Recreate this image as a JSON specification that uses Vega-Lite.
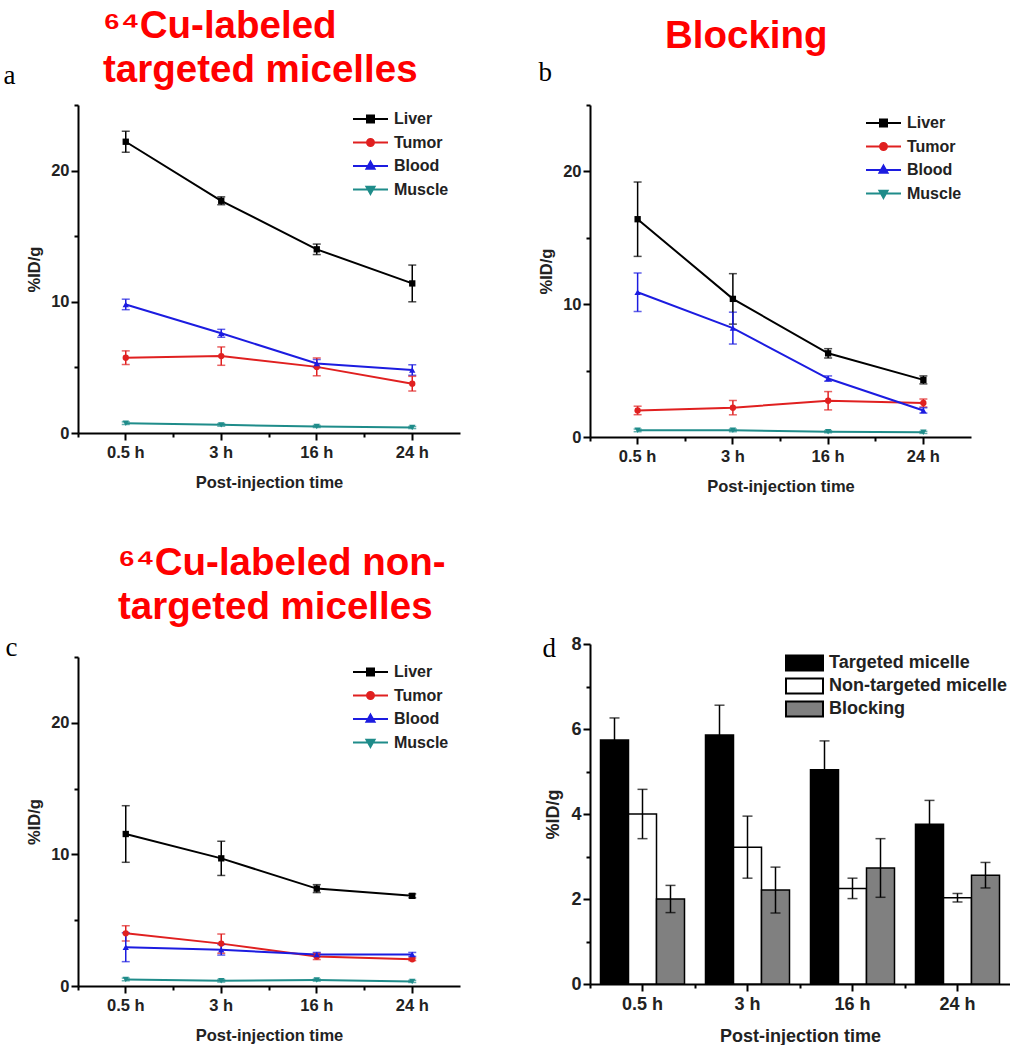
{
  "$schema": "https://vega.github.io/schema/vega-lite/v6.json",
  "background": "white",
  "padding": {"left": 3, "top": -5, "right": 0, "bottom": 0},
  "datasets": {
    "a": [
      {"time": "0.5 h", "organ": "Liver", "value": 22.2, "err": 0.8},
      {"time": "3 h", "organ": "Liver", "value": 17.7, "err": 0.3},
      {"time": "16 h", "organ": "Liver", "value": 14.0, "err": 0.4},
      {"time": "24 h", "organ": "Liver", "value": 11.4, "err": 1.4},
      {"time": "0.5 h", "organ": "Tumor", "value": 5.74, "err": 0.52},
      {"time": "3 h", "organ": "Tumor", "value": 5.86, "err": 0.7},
      {"time": "16 h", "organ": "Tumor", "value": 5.04, "err": 0.68},
      {"time": "24 h", "organ": "Tumor", "value": 3.76, "err": 0.56},
      {"time": "0.5 h", "organ": "Blood", "value": 9.8, "err": 0.4},
      {"time": "3 h", "organ": "Blood", "value": 7.6, "err": 0.3},
      {"time": "16 h", "organ": "Blood", "value": 5.3, "err": 0.3},
      {"time": "24 h", "organ": "Blood", "value": 4.8, "err": 0.4},
      {"time": "0.5 h", "organ": "Muscle", "value": 0.75, "err": 0.1},
      {"time": "3 h", "organ": "Muscle", "value": 0.62, "err": 0.1},
      {"time": "16 h", "organ": "Muscle", "value": 0.5, "err": 0.08},
      {"time": "24 h", "organ": "Muscle", "value": 0.42, "err": 0.08}
    ],
    "b": [
      {"time": "0.5 h", "organ": "Liver", "value": 16.4, "err": 2.8},
      {"time": "3 h", "organ": "Liver", "value": 10.4, "err": 1.9},
      {"time": "16 h", "organ": "Liver", "value": 6.3, "err": 0.35},
      {"time": "24 h", "organ": "Liver", "value": 4.3, "err": 0.3},
      {"time": "0.5 h", "organ": "Tumor", "value": 2.0, "err": 0.32},
      {"time": "3 h", "organ": "Tumor", "value": 2.21, "err": 0.54},
      {"time": "16 h", "organ": "Tumor", "value": 2.73, "err": 0.69},
      {"time": "24 h", "organ": "Tumor", "value": 2.56, "err": 0.3},
      {"time": "0.5 h", "organ": "Blood", "value": 10.9, "err": 1.45},
      {"time": "3 h", "organ": "Blood", "value": 8.2, "err": 1.2},
      {"time": "16 h", "organ": "Blood", "value": 4.4, "err": 0.2},
      {"time": "24 h", "organ": "Blood", "value": 2.0, "err": 0.2},
      {"time": "0.5 h", "organ": "Muscle", "value": 0.5, "err": 0.1},
      {"time": "3 h", "organ": "Muscle", "value": 0.5, "err": 0.1},
      {"time": "16 h", "organ": "Muscle", "value": 0.4, "err": 0.08},
      {"time": "24 h", "organ": "Muscle", "value": 0.35, "err": 0.08}
    ],
    "c": [
      {"time": "0.5 h", "organ": "Liver", "value": 11.55, "err": 2.15},
      {"time": "3 h", "organ": "Liver", "value": 9.7, "err": 1.3},
      {"time": "16 h", "organ": "Liver", "value": 7.4, "err": 0.3},
      {"time": "24 h", "organ": "Liver", "value": 6.85, "err": 0.15},
      {"time": "0.5 h", "organ": "Tumor", "value": 4.0, "err": 0.58},
      {"time": "3 h", "organ": "Tumor", "value": 3.22, "err": 0.73},
      {"time": "16 h", "organ": "Tumor", "value": 2.25, "err": 0.24},
      {"time": "24 h", "organ": "Tumor", "value": 2.03, "err": 0.1},
      {"time": "0.5 h", "organ": "Blood", "value": 2.95, "err": 1.1},
      {"time": "3 h", "organ": "Blood", "value": 2.75, "err": 0.4},
      {"time": "16 h", "organ": "Blood", "value": 2.4, "err": 0.15},
      {"time": "24 h", "organ": "Blood", "value": 2.4, "err": 0.15},
      {"time": "0.5 h", "organ": "Muscle", "value": 0.5, "err": 0.1},
      {"time": "3 h", "organ": "Muscle", "value": 0.4, "err": 0.1},
      {"time": "16 h", "organ": "Muscle", "value": 0.45, "err": 0.08},
      {"time": "24 h", "organ": "Muscle", "value": 0.35, "err": 0.08}
    ],
    "d": [
      {"time": "0.5 h", "group": "Targeted micelle", "value": 5.74, "err": 0.52},
      {"time": "0.5 h", "group": "Non-targeted micelle", "value": 4.0, "err": 0.58},
      {"time": "0.5 h", "group": "Blocking", "value": 2.0, "err": 0.32},
      {"time": "3 h", "group": "Targeted micelle", "value": 5.86, "err": 0.7},
      {"time": "3 h", "group": "Non-targeted micelle", "value": 3.22, "err": 0.73},
      {"time": "3 h", "group": "Blocking", "value": 2.21, "err": 0.54},
      {"time": "16 h", "group": "Targeted micelle", "value": 5.04, "err": 0.68},
      {"time": "16 h", "group": "Non-targeted micelle", "value": 2.25, "err": 0.24},
      {"time": "16 h", "group": "Blocking", "value": 2.73, "err": 0.69},
      {"time": "24 h", "group": "Targeted micelle", "value": 3.76, "err": 0.56},
      {"time": "24 h", "group": "Non-targeted micelle", "value": 2.03, "err": 0.1},
      {"time": "24 h", "group": "Blocking", "value": 2.56, "err": 0.3}
    ]
  },
  "hconcat": [
    {
      "spacing": 52,
      "resolve": {"scale": {"color": "independent", "shape": "independent"}},
      "vconcat": [
        {
          "width": 382, "height": 328,
          "data": {"name": "a"},
          "title": {"text": ["⁶⁴Cu-labeled", "targeted micelles"], "dx": 25, "offset": -29, "lineHeight": 44},
          "layer": [
            {"mark": {"type": "line", "strokeWidth": 2},
             "encoding": {
               "x": {"field": "time", "type": "ordinal", "scale": {"type": "band", "domain": ["0.5 h", "3 h", "16 h", "24 h"], "paddingInner": 0, "paddingOuter": 0}, "axis": {"title": "Post-injection time", "labelAngle": 0, "bandPosition": 0.5, "tickSize": 7, "labelPadding": 4, "titlePadding": 14}},
               "y": {"field": "value", "type": "quantitative", "scale": {"domain": [0, 25], "nice": false}, "axis": {"values": [0, 10, 20], "tickSize": 7, "labelPadding": 2, "title": "%ID/g", "titlePadding": 8}},
               "color": {"field": "organ", "type": "nominal", "scale": {"domain": ["Liver", "Tumor", "Blood", "Muscle"], "range": ["#000000", "#e02020", "#1c1ce0", "#1f8c8a"]},
                 "legend": {"orient": "none", "legendX": 274, "legendY": 6, "title": null, "labelFontSize": 16, "symbolSize": 1225, "symbolStrokeWidth": 2, "labelOffset": 5, "clipHeight": 16, "rowPadding": 7.5,
                   "encode": {"symbols": {"update": {
                     "shape": {"signal": "datum.value === 'Liver' ? 'M-1,0H1M-0.2,-0.2H0.2V0.2H-0.2Z' : datum.value === 'Tumor' ? 'M-1,0H1M0.2,0A0.2,0.2,0,1,1,-0.2,0A0.2,0.2,0,1,1,0.2,0Z' : datum.value === 'Blood' ? 'M-1,0H1M0,-0.25L0.23,0.16L-0.23,0.16Z' : 'M-1,0H1M0,0.25L0.23,-0.16L-0.23,-0.16Z'"},
                     "fill": {"signal": "datum.value === 'Liver' ? '#000000' : datum.value === 'Tumor' ? '#e02020' : datum.value === 'Blood' ? '#1c1ce0' : '#1f8c8a'"},
                     "stroke": {"signal": "datum.value === 'Liver' ? '#000000' : datum.value === 'Tumor' ? '#e02020' : datum.value === 'Blood' ? '#1c1ce0' : '#1f8c8a'"}
                   }}}}}
             }},
            {"mark": {"type": "errorbar", "ticks": {"size": 8, "thickness": 1.5}, "thickness": 1.5},
             "encoding": {
               "x": {"field": "time", "type": "ordinal", "axis": {"orient": "bottom", "bandPosition": 0, "tickSize": 4, "labels": false, "domain": false, "title": null}},
               "y": {"field": "value", "type": "quantitative", "axis": null},
               "yError": {"field": "err"},
               "color": {"field": "organ", "type": "nominal", "legend": null}
             }},
            {"mark": {"type": "point", "filled": true, "size": 40, "opacity": 1},
             "encoding": {
               "x": {"field": "time", "type": "ordinal", "axis": null},
               "y": {"field": "value", "type": "quantitative", "axis": {"orient": "left", "values": [5, 15, 25], "tickSize": 4, "labels": false, "domain": false, "title": "a", "titleAngle": 0, "titleX": -75, "titleY": -22, "titleAlign": "left", "titleBaseline": "alphabetic", "titleFont": "Liberation Serif", "titleFontWeight": "normal", "titleFontSize": 27, "titleColor": "#000"}},
               "color": {"field": "organ", "type": "nominal", "legend": null},
               "shape": {"field": "organ", "type": "nominal", "scale": {"domain": ["Blood", "Liver", "Muscle", "Tumor"], "range": ["triangle-up", "square", "triangle-down", "circle"]}, "legend": null}
             }}
          ],
          "resolve": {"axis": {"x": "independent", "y": "independent"}}
        },
        {
          "width": 382, "height": 329,
          "data": {"name": "c"},
          "title": {"text": ["⁶⁴Cu-labeled non-", "targeted micelles"], "dx": 40, "offset": 6, "lineHeight": 44},
          "layer": [
            {"mark": {"type": "line", "strokeWidth": 2},
             "encoding": {
               "x": {"field": "time", "type": "ordinal", "scale": {"type": "band", "domain": ["0.5 h", "3 h", "16 h", "24 h"], "paddingInner": 0, "paddingOuter": 0}, "axis": {"title": "Post-injection time", "labelAngle": 0, "bandPosition": 0.5, "tickSize": 7, "labelPadding": 4, "titlePadding": 14}},
               "y": {"field": "value", "type": "quantitative", "scale": {"domain": [0, 25], "nice": false}, "axis": {"values": [0, 10, 20], "tickSize": 7, "labelPadding": 2, "title": "%ID/g", "titlePadding": 8}},
               "color": {"field": "organ", "type": "nominal", "scale": {"domain": ["Liver", "Tumor", "Blood", "Muscle"], "range": ["#000000", "#e02020", "#1c1ce0", "#1f8c8a"]},
                 "legend": {"orient": "none", "legendX": 274, "legendY": 7, "title": null, "labelFontSize": 16, "symbolSize": 1225, "symbolStrokeWidth": 2, "labelOffset": 5, "clipHeight": 16, "rowPadding": 7.5,
                   "encode": {"symbols": {"update": {
                     "shape": {"signal": "datum.value === 'Liver' ? 'M-1,0H1M-0.2,-0.2H0.2V0.2H-0.2Z' : datum.value === 'Tumor' ? 'M-1,0H1M0.2,0A0.2,0.2,0,1,1,-0.2,0A0.2,0.2,0,1,1,0.2,0Z' : datum.value === 'Blood' ? 'M-1,0H1M0,-0.25L0.23,0.16L-0.23,0.16Z' : 'M-1,0H1M0,0.25L0.23,-0.16L-0.23,-0.16Z'"},
                     "fill": {"signal": "datum.value === 'Liver' ? '#000000' : datum.value === 'Tumor' ? '#e02020' : datum.value === 'Blood' ? '#1c1ce0' : '#1f8c8a'"},
                     "stroke": {"signal": "datum.value === 'Liver' ? '#000000' : datum.value === 'Tumor' ? '#e02020' : datum.value === 'Blood' ? '#1c1ce0' : '#1f8c8a'"}
                   }}}}}
             }},
            {"mark": {"type": "errorbar", "ticks": {"size": 8, "thickness": 1.5}, "thickness": 1.5},
             "encoding": {
               "x": {"field": "time", "type": "ordinal", "axis": {"orient": "bottom", "bandPosition": 0, "tickSize": 4, "labels": false, "domain": false, "title": null}},
               "y": {"field": "value", "type": "quantitative", "axis": null},
               "yError": {"field": "err"},
               "color": {"field": "organ", "type": "nominal", "legend": null}
             }},
            {"mark": {"type": "point", "filled": true, "size": 40, "opacity": 1},
             "encoding": {
               "x": {"field": "time", "type": "ordinal", "axis": null},
               "y": {"field": "value", "type": "quantitative", "axis": {"orient": "left", "values": [5, 15, 25], "tickSize": 4, "labels": false, "domain": false, "title": "c", "titleAngle": 0, "titleX": -73, "titleY": -2, "titleAlign": "left", "titleBaseline": "alphabetic", "titleFont": "Liberation Serif", "titleFontWeight": "normal", "titleFontSize": 27, "titleColor": "#000"}},
               "color": {"field": "organ", "type": "nominal", "legend": null},
               "shape": {"field": "organ", "type": "nominal", "scale": {"domain": ["Blood", "Liver", "Muscle", "Tumor"], "range": ["triangle-up", "square", "triangle-down", "circle"]}, "legend": null}
             }}
          ],
          "resolve": {"axis": {"x": "independent", "y": "independent"}}
        }
      ]
    },
    {
      "spacing": 139,
      "resolve": {"scale": {"color": "independent", "shape": "independent", "fill": "independent"}},
      "vconcat": [
        {
          "width": 381, "height": 332,
          "data": {"name": "b"},
          "title": {"text": [" ", "Blocking"], "dx": 75, "offset": 2, "lineHeight": 21},
          "layer": [
            {"mark": {"type": "line", "strokeWidth": 2},
             "encoding": {
               "x": {"field": "time", "type": "ordinal", "scale": {"type": "band", "domain": ["0.5 h", "3 h", "16 h", "24 h"], "paddingInner": 0, "paddingOuter": 0}, "axis": {"title": "Post-injection time", "labelAngle": 0, "bandPosition": 0.5, "tickSize": 7, "labelPadding": 4, "titlePadding": 14}},
               "y": {"field": "value", "type": "quantitative", "scale": {"domain": [0, 25], "nice": false}, "axis": {"values": [0, 10, 20], "tickSize": 7, "labelPadding": 2, "title": "%ID/g", "titlePadding": 8}},
               "color": {"field": "organ", "type": "nominal", "scale": {"domain": ["Liver", "Tumor", "Blood", "Muscle"], "range": ["#000000", "#e02020", "#1c1ce0", "#1f8c8a"]},
                 "legend": {"orient": "none", "legendX": 275, "legendY": 10, "title": null, "labelFontSize": 16, "symbolSize": 1225, "symbolStrokeWidth": 2, "labelOffset": 5, "clipHeight": 16, "rowPadding": 7.5,
                   "encode": {"symbols": {"update": {
                     "shape": {"signal": "datum.value === 'Liver' ? 'M-1,0H1M-0.2,-0.2H0.2V0.2H-0.2Z' : datum.value === 'Tumor' ? 'M-1,0H1M0.2,0A0.2,0.2,0,1,1,-0.2,0A0.2,0.2,0,1,1,0.2,0Z' : datum.value === 'Blood' ? 'M-1,0H1M0,-0.25L0.23,0.16L-0.23,0.16Z' : 'M-1,0H1M0,0.25L0.23,-0.16L-0.23,-0.16Z'"},
                     "fill": {"signal": "datum.value === 'Liver' ? '#000000' : datum.value === 'Tumor' ? '#e02020' : datum.value === 'Blood' ? '#1c1ce0' : '#1f8c8a'"},
                     "stroke": {"signal": "datum.value === 'Liver' ? '#000000' : datum.value === 'Tumor' ? '#e02020' : datum.value === 'Blood' ? '#1c1ce0' : '#1f8c8a'"}
                   }}}}}
             }},
            {"mark": {"type": "errorbar", "ticks": {"size": 8, "thickness": 1.5}, "thickness": 1.5},
             "encoding": {
               "x": {"field": "time", "type": "ordinal", "axis": {"orient": "bottom", "bandPosition": 0, "tickSize": 4, "labels": false, "domain": false, "title": null}},
               "y": {"field": "value", "type": "quantitative", "axis": null},
               "yError": {"field": "err"},
               "color": {"field": "organ", "type": "nominal", "legend": null}
             }},
            {"mark": {"type": "point", "filled": true, "size": 40, "opacity": 1},
             "encoding": {
               "x": {"field": "time", "type": "ordinal", "axis": null},
               "y": {"field": "value", "type": "quantitative", "axis": {"orient": "left", "values": [5, 15, 25], "tickSize": 4, "labels": false, "domain": false, "title": "b", "titleAngle": 0, "titleX": -52, "titleY": -25, "titleAlign": "left", "titleBaseline": "alphabetic", "titleFont": "Liberation Serif", "titleFontWeight": "normal", "titleFontSize": 27, "titleColor": "#000"}},
               "color": {"field": "organ", "type": "nominal", "legend": null},
               "shape": {"field": "organ", "type": "nominal", "scale": {"domain": ["Blood", "Liver", "Muscle", "Tumor"], "range": ["triangle-up", "square", "triangle-down", "circle"]}, "legend": null}
             }}
          ],
          "resolve": {"axis": {"x": "independent", "y": "independent"}}
        },
        {
          "width": 420, "height": 340,
          "data": {"name": "d"},
          "layer": [
            {"mark": {"type": "bar", "stroke": "#000", "strokeWidth": 1.5},
             "encoding": {
               "x": {"field": "time", "type": "ordinal", "scale": {"type": "band", "domain": ["0.5 h", "3 h", "16 h", "24 h"], "paddingInner": 0.2, "paddingOuter": 0.1}, "axis": {"title": "Post-injection time", "labelAngle": 0, "bandPosition": 0.5, "tickSize": 7, "labelPadding": 4, "titlePadding": 14, "labelFontSize": 18, "titleFontSize": 18}},
               "xOffset": {"field": "group", "type": "nominal", "scale": {"domain": ["Targeted micelle", "Non-targeted micelle", "Blocking"], "paddingInner": 0, "paddingOuter": 0}},
               "y": {"field": "value", "type": "quantitative", "scale": {"domain": [0, 8], "nice": false}, "axis": {"values": [0, 2, 4, 6, 8], "tickSize": 7, "labelPadding": 2, "title": "%ID/g", "titlePadding": 8, "labelFontSize": 18, "titleFontSize": 18}},
               "fill": {"field": "group", "type": "nominal", "scale": {"domain": ["Targeted micelle", "Non-targeted micelle", "Blocking"], "range": ["#000000", "#ffffff", "#808080"]},
                 "legend": {"orient": "none", "legendX": 195, "legendY": 10, "title": null, "labelFontSize": 18, "labelLimit": 400, "symbolType": "M-1,-0.4H1V0.4H-1Z", "symbolSize": 1369, "symbolStrokeColor": "#000", "symbolStrokeWidth": 2, "labelOffset": 5, "clipHeight": 18, "rowPadding": 5}}
             }},
            {"mark": {"type": "errorbar", "ticks": {"size": 10, "thickness": 1.5}, "thickness": 1.5, "color": "#000"},
             "encoding": {
               "x": {"field": "time", "type": "ordinal", "axis": {"orient": "bottom", "bandPosition": -0.125, "tickSize": 4, "labels": false, "domain": false, "title": null}},
               "xOffset": {"field": "group", "type": "nominal"},
               "y": {"field": "value", "type": "quantitative", "axis": {"orient": "left", "values": [1, 3, 5, 7], "tickSize": 4, "labels": false, "domain": false, "title": "d", "titleAngle": 0, "titleX": -48, "titleY": 12, "titleAlign": "left", "titleBaseline": "alphabetic", "titleFont": "Liberation Serif", "titleFontWeight": "normal", "titleFontSize": 27, "titleColor": "#000"}},
               "yError": {"field": "err"}
             }}
          ],
          "resolve": {"axis": {"x": "independent", "y": "independent"}}
        }
      ]
    }
  ],
  "spacing": 78,
  "resolve": {"scale": {"color": "independent", "shape": "independent", "fill": "independent"}},
  "config": {
    "view": {"stroke": null},
    "axis": {"domainColor": "#000", "domainWidth": 2, "tickColor": "#000", "tickWidth": 2, "labelFont": "Liberation Sans", "labelFontWeight": "bold", "labelColor": "#222", "labelFontSize": 16.5, "titleFont": "Liberation Sans", "titleFontWeight": "bold", "titleColor": "#222", "titleFontSize": 16.5, "grid": false},
    "legend": {"labelFont": "Liberation Sans", "labelFontWeight": "bold", "labelColor": "#222"},
    "title": {"font": "Liberation Sans, DejaVu Sans", "fontWeight": "bold", "color": "#ff0000", "fontSize": 38.5, "anchor": "start", "frame": "group"}
  }
}
